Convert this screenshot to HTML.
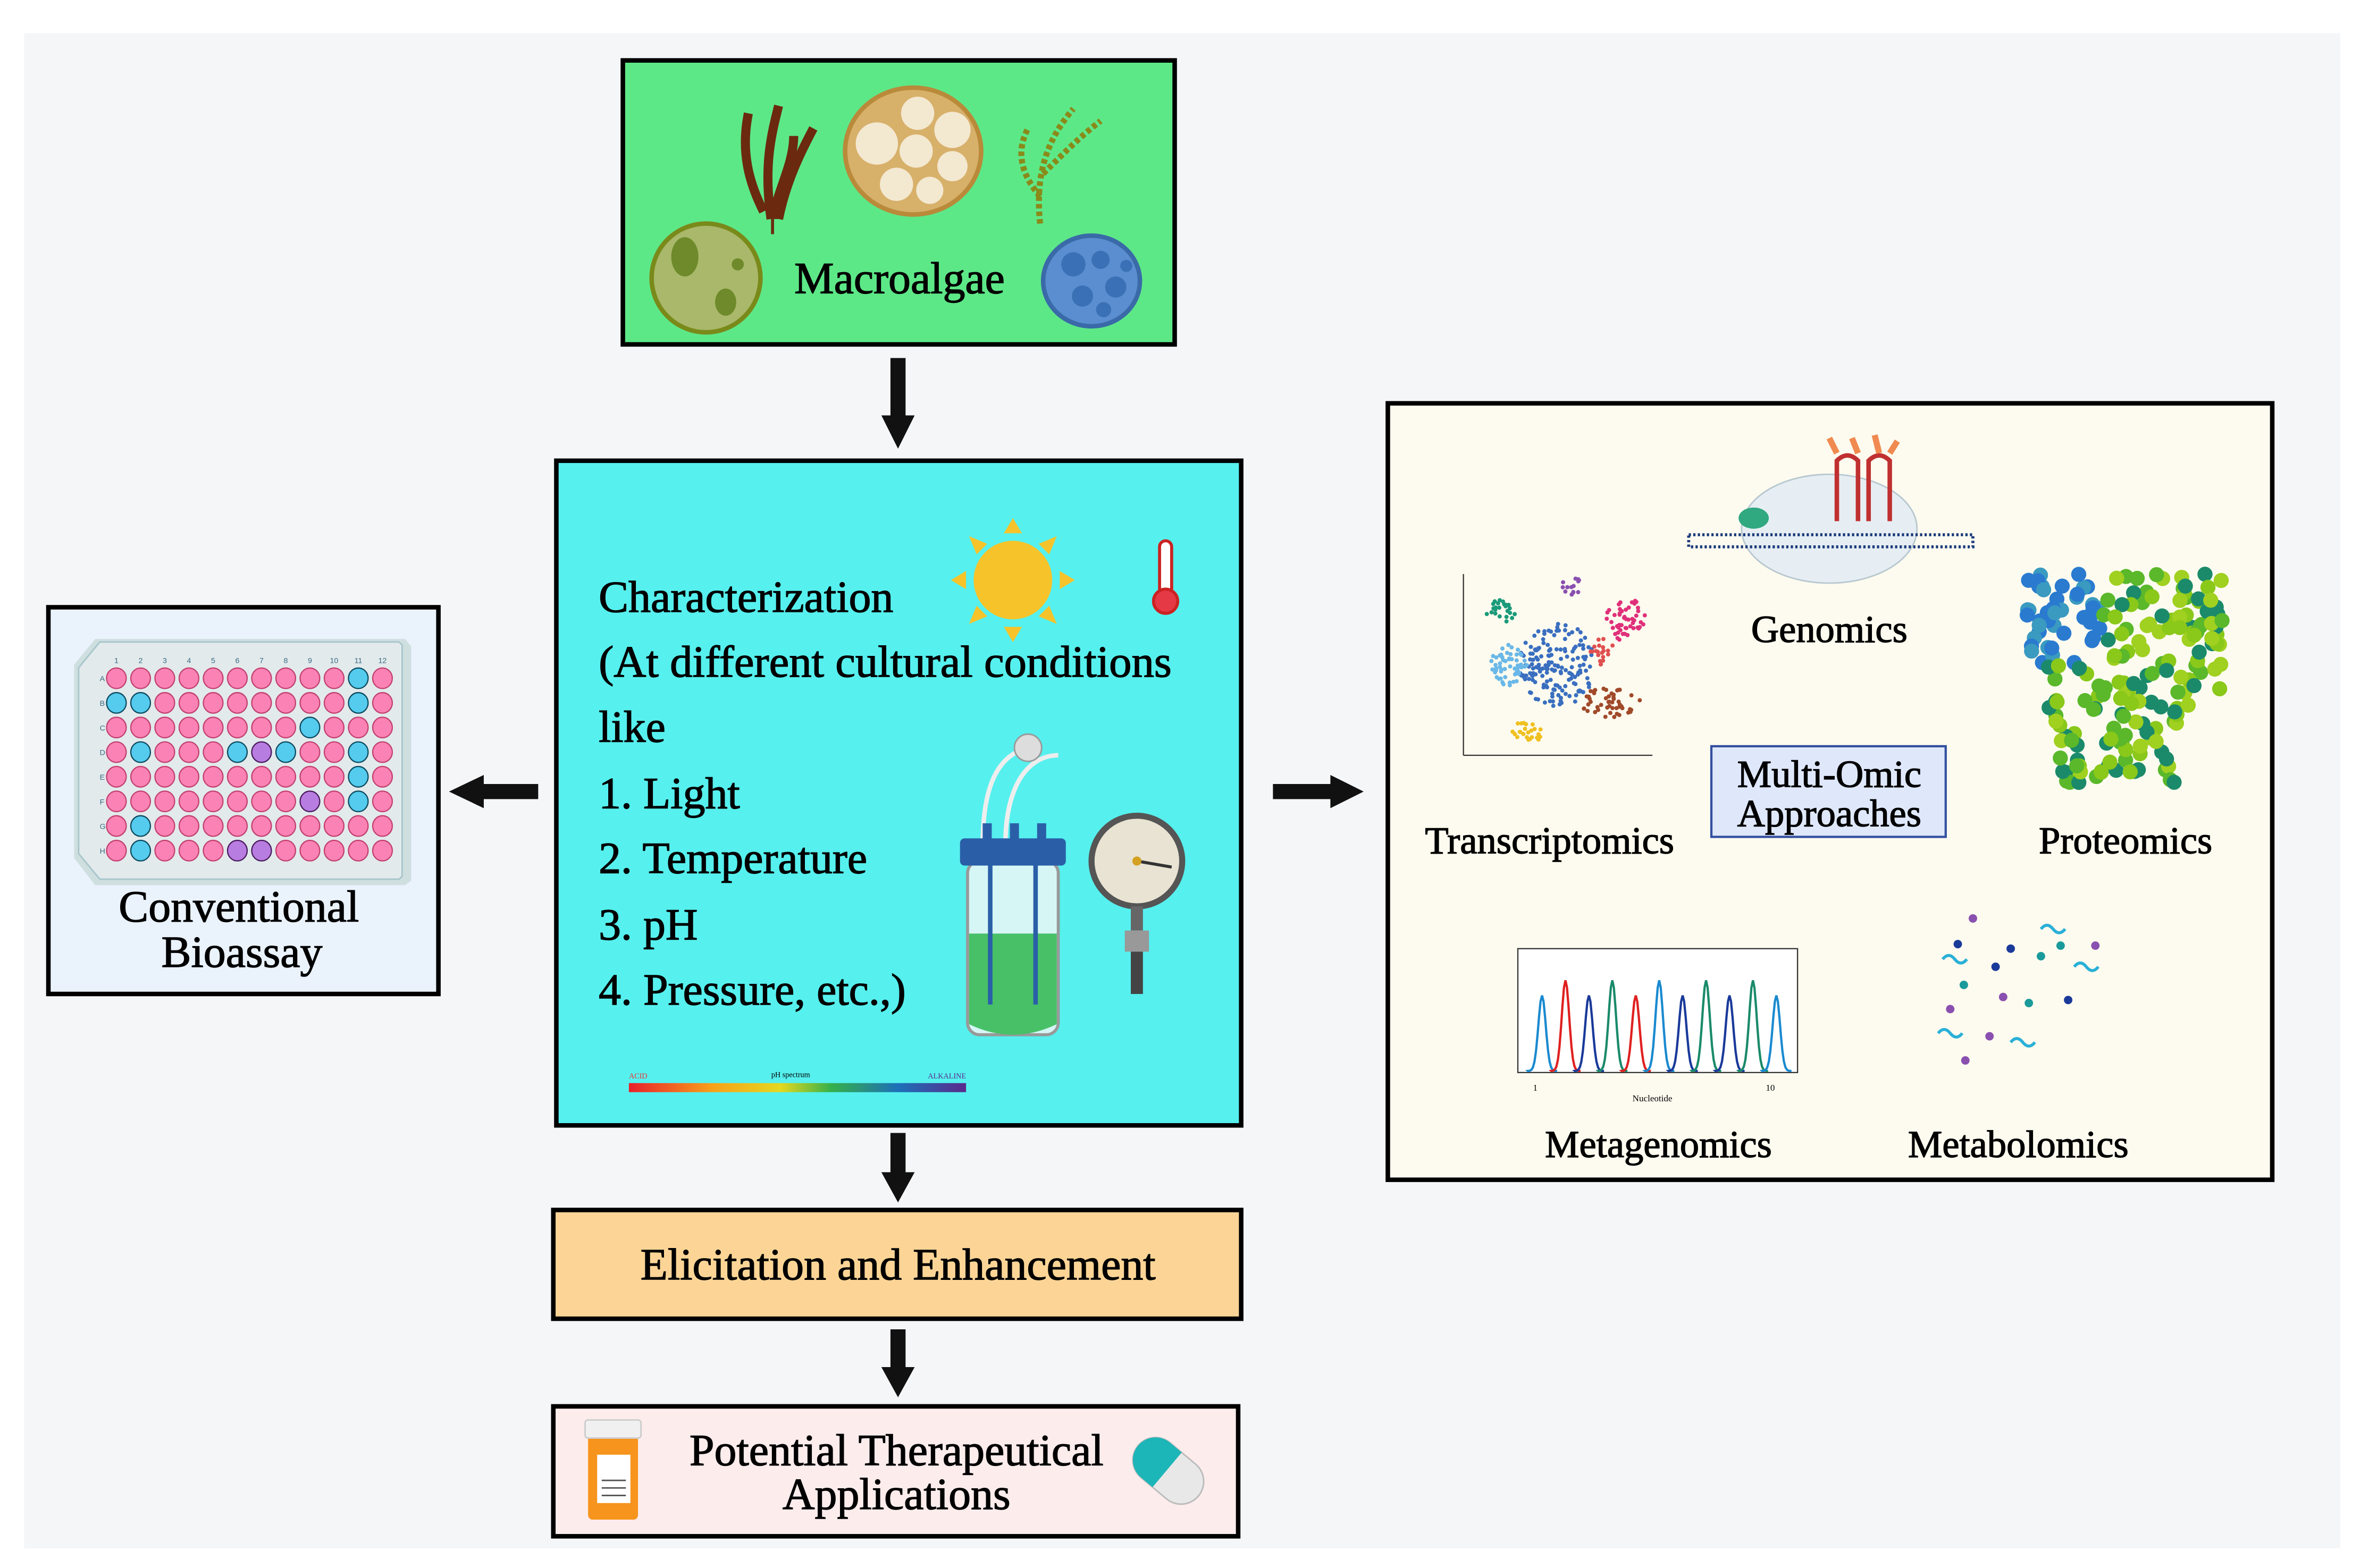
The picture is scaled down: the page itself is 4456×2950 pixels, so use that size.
<!DOCTYPE html>
<html><head><meta charset="utf-8">
<style>
html,body{margin:0;padding:0;background:#fff;}
svg{display:block;}
text{font-family:"Liberation Serif",serif;fill:#000;}
.b{stroke:#000;stroke-width:0.5;}
</style></head>
<body>
<svg id="s" width="4456" height="2950" viewBox="0 0 1567 1038" preserveAspectRatio="none" xmlns="http://www.w3.org/2000/svg">
<defs>
<linearGradient id="ph" x1="0" x2="1"><stop offset="0" stop-color="#e8202a"/><stop offset="0.25" stop-color="#f7a21b"/><stop offset="0.45" stop-color="#e4d820"/><stop offset="0.6" stop-color="#35b04a"/><stop offset="0.8" stop-color="#1d6fb8"/><stop offset="1" stop-color="#5a2a8c"/></linearGradient>
</defs>
<rect x="0" y="0" width="1567" height="1038" fill="#fff"/>
<rect x="16" y="22" width="1532" height="1003" fill="#f5f6f8"/>

<!-- Macroalgae box -->
<rect x="412" y="40" width="365" height="188" fill="#5de888" stroke="#000" stroke-width="3"/>
<path d="M505 140 C495 120 490 100 495 75 M510 145 C505 110 510 90 515 70 M515 145 C520 120 530 100 538 85 M512 145 C512 130 525 110 525 90" stroke="#6b2a10" stroke-width="6" fill="none"/>
<line x1="511" y1="145" x2="511" y2="155" stroke="#6b2a10" stroke-width="2"/>
<ellipse cx="604" cy="100" rx="45" ry="42" fill="#d7b06a" stroke="#b98a3a" stroke-width="3"/>
<circle cx="580" cy="95" r="14" fill="#f3e8d0"/><circle cx="607" cy="75" r="11" fill="#f3e8d0"/><circle cx="630" cy="86" r="12" fill="#f3e8d0"/><circle cx="606" cy="100" r="11" fill="#f3e8d0"/><circle cx="630" cy="110" r="10" fill="#f3e8d0"/><circle cx="593" cy="122" r="11" fill="#f3e8d0"/><circle cx="615" cy="126" r="9" fill="#f3e8d0"/>
<path d="M688 148 C685 120 690 95 710 72 M688 130 C675 115 672 100 680 85 M690 115 C705 100 715 90 728 80" stroke="#8a8a1a" stroke-width="4" fill="none" stroke-dasharray="3 2"/>
<ellipse cx="467" cy="184" rx="36" ry="36" fill="#a9b86a" stroke="#7a8a1a" stroke-width="3"/>
<ellipse cx="453" cy="170" rx="9" ry="13" fill="#6e8a2a"/><ellipse cx="480" cy="200" rx="7" ry="9" fill="#6e8a2a"/><circle cx="488" cy="175" r="4" fill="#6e8a2a"/>
<ellipse cx="722" cy="186" rx="32" ry="30" fill="#5a8ed0" stroke="#3a6aa8" stroke-width="3"/>
<circle cx="710" cy="175" r="8" fill="#3a70b5"/><circle cx="728" cy="172" r="6" fill="#3a70b5"/><circle cx="738" cy="190" r="7" fill="#3a70b5"/><circle cx="716" cy="196" r="7" fill="#3a70b5"/><circle cx="730" cy="205" r="5" fill="#3a70b5"/><circle cx="745" cy="176" r="4" fill="#3a70b5"/>
<text class="b" x="595" y="194" font-size="29.5" text-anchor="middle">Macroalgae</text>

<!-- arrows -->
<g fill="#111">
<rect x="589" y="237" width="10" height="40"/><polygon points="583,275 605,275 594,297"/>
<rect x="589" y="750" width="10" height="28"/><polygon points="583,776 605,776 594,796"/>
<rect x="589" y="880" width="10" height="27"/><polygon points="583,905 605,905 594,925"/>
<rect x="318" y="519" width="38" height="10"/><polygon points="320,513 320,535 297,524"/>
<rect x="842" y="519" width="40" height="10"/><polygon points="880,513 880,535 902,524"/>
</g>

<!-- Center box -->
<rect x="368" y="305" width="453" height="440" fill="#56f0ee" stroke="#000" stroke-width="3"/>
<g font-size="29.5" class="b">
<text x="396" y="405">Characterization</text>
<text x="396" y="448" textLength="379" lengthAdjust="spacingAndGlyphs">(At different cultural conditions</text>
<text x="396" y="491">like</text>
<text x="396" y="535">1. Light</text>
<text x="396" y="578">2. Temperature</text>
<text x="396" y="622">3. pH</text>
<text x="396" y="665">4. Pressure, etc.,)</text>
</g>
<!-- sun -->
<g fill="#f7c32a">
<circle cx="670" cy="384" r="26"/>
<polygon points="670,343 664,353 676,353"/><polygon points="670,425 664,415 676,415"/>
<polygon points="629,384 639,378 639,390"/><polygon points="711,384 701,378 701,390"/>
<polygon points="641,355 646,367 653,360"/><polygon points="699,355 694,367 687,360"/>
<polygon points="641,413 646,401 653,408"/><polygon points="699,413 694,401 687,408"/>
</g>
<rect x="767" y="358" width="8" height="36" rx="4" fill="#fff" stroke="#c22" stroke-width="2"/>
<circle cx="771" cy="398" r="8" fill="#e63946" stroke="#c22" stroke-width="2"/>
<!-- bioreactor -->
<path d="M650 560 C650 520 660 500 680 495 M665 560 C665 520 680 500 700 500" stroke="#eee" stroke-width="3" fill="none"/>
<circle cx="680" cy="495" r="9" fill="#ddd" stroke="#999"/>
<rect x="640" y="570" width="60" height="115" rx="8" fill="#d6f6f6" stroke="#999" stroke-width="2"/>
<path d="M641 618 L699 618 L699 678 Q670 692 641 678 Z" fill="#48c068"/>
<rect x="635" y="555" width="70" height="18" rx="3" fill="#2a5fa8"/>
<rect x="650" y="545" width="6" height="12" fill="#2a5fa8"/><rect x="668" y="545" width="6" height="12" fill="#2a5fa8"/><rect x="686" y="545" width="6" height="12" fill="#2a5fa8"/>
<line x1="655" y1="573" x2="655" y2="665" stroke="#2a5fa8" stroke-width="3"/><line x1="685" y1="573" x2="685" y2="665" stroke="#2a5fa8" stroke-width="3"/>
<!-- gauge -->
<circle cx="752" cy="570" r="30" fill="#e8e3d2" stroke="#555" stroke-width="4"/>
<line x1="752" y1="570" x2="775" y2="574" stroke="#333" stroke-width="2"/><circle cx="752" cy="570" r="3" fill="#d4a020"/>
<rect x="748" y="600" width="8" height="16" fill="#666"/><rect x="744" y="616" width="16" height="14" fill="#999"/><rect x="748" y="630" width="8" height="28" fill="#444"/>
<!-- pH bar -->
<rect x="416" y="717" width="223" height="6" fill="url(#ph)"/>
<text x="416" y="714" font-size="5" style="fill:#e33">ACID</text>
<text x="523" y="713" font-size="5" text-anchor="middle">pH spectrum</text>
<text x="639" y="714" font-size="5" text-anchor="end" style="fill:#5a2a8c">ALKALINE</text>

<!-- Left box -->
<rect x="32" y="402" width="258" height="256" fill="#eaf2fc" stroke="#000" stroke-width="3"/>
<path d="M63 423 L268 423 L272 428 L272 583 L268 586 L63 586 L49 568 L49 440 Z" fill="#cfdfe0"/>
<path d="M66 425 L264 425 L266 427 L266 580 L264 582 L66 582 L52 565 L52 442 Z" fill="#e2eaec" stroke="#a7c6cc" stroke-width="1"/>
<g id="plate"></g>
<text class="b" x="158" y="610" font-size="29.5" text-anchor="middle">Conventional</text>
<text class="b" x="160" y="640" font-size="29.5" text-anchor="middle">Bioassay</text>

<!-- Right box -->
<rect x="918" y="267" width="585" height="514" fill="#fdfbef" stroke="#000" stroke-width="3"/>
<!-- genomics -->
<ellipse cx="1210" cy="350" rx="58" ry="36" fill="#e6eef3" stroke="#b8c8d0"/>
<rect x="1117" y="354" width="188" height="8" fill="none" stroke="#1a3a7a" stroke-width="2" stroke-dasharray="1.5 1.5"/>
<path d="M1215 345 L1215 305 Q1222 298 1229 305 L1229 345 M1236 345 L1236 305 Q1243 298 1250 305 L1250 345" stroke="#c03030" stroke-width="3" fill="none"/>
<path d="M1215 300 L1210 290 M1229 300 L1225 290 M1243 300 L1240 288 M1250 300 L1255 292" stroke="#f08a50" stroke-width="4"/>
<ellipse cx="1160" cy="343" rx="10" ry="7" fill="#30a880"/>
<text class="b" x="1210" y="425" font-size="25.5" text-anchor="middle">Genomics</text>
<!-- tsne -->
<g id="tsne"></g>
<line x1="968" y1="500" x2="1093" y2="500" stroke="#333" stroke-width="0.8"/>
<line x1="968" y1="380" x2="968" y2="500" stroke="#333" stroke-width="0.8"/>
<text class="b" x="1025" y="565" font-size="25.5" text-anchor="middle">Transcriptomics</text>
<!-- proteomics -->
<g id="prot"></g>
<text class="b" x="1406" y="565" font-size="25.5" text-anchor="middle">Proteomics</text>
<!-- multi-omic -->
<rect x="1132" y="494" width="155" height="60" fill="#dfe8fb" stroke="#3350a0" stroke-width="1.5"/>
<text class="b" x="1210" y="521" font-size="25.5" text-anchor="middle">Multi-Omic</text>
<text class="b" x="1210" y="547" font-size="25.5" text-anchor="middle">Approaches</text>
<!-- metagenomics -->
<rect x="1004" y="628" width="185" height="82" fill="#fff" stroke="#333" stroke-width="0.8"/>
<g id="peaks" fill="none" stroke-width="1.5"></g>
<text x="1014" y="722" font-size="6">1</text><text x="1168" y="722" font-size="6">10</text><text x="1093" y="729" font-size="6" text-anchor="middle">Nucleotide</text>
<text class="b" x="1097" y="766" font-size="25.5" text-anchor="middle">Metagenomics</text>
<!-- metabolomics -->
<g id="met"></g>
<text class="b" x="1335" y="766" font-size="25.5" text-anchor="middle">Metabolomics</text>

<!-- Elicitation -->
<rect x="366" y="801" width="455" height="72" fill="#fcd596" stroke="#000" stroke-width="3"/>
<text class="b" x="594" y="847" font-size="29.5" text-anchor="middle">Elicitation and Enhancement</text>

<!-- Potential -->
<rect x="366" y="931" width="453" height="86" fill="#fcecec" stroke="#000" stroke-width="3"/>
<rect x="389" y="950" width="33" height="56" rx="3" fill="#f7941d"/>
<rect x="387" y="940" width="37" height="12" rx="2" fill="#f0f0f0" stroke="#ccc"/>
<rect x="395" y="963" width="22" height="32" fill="#fff"/>
<line x1="398" y1="980" x2="414" y2="980" stroke="#555"/><line x1="398" y1="985" x2="414" y2="985" stroke="#555"/><line x1="398" y1="990" x2="414" y2="990" stroke="#555"/>
<g transform="rotate(40 772 973)">
<rect x="747" y="958" width="52" height="30" rx="15" fill="#e8e8e8" stroke="#bbb"/>
<path d="M762 958 L772 958 L772 988 L762 988 A15 15 0 0 1 762 958 Z" fill="#1cb5b8"/>
</g>
<text class="b" x="593" y="970" font-size="29.5" text-anchor="middle">Potential Therapeutical</text>
<text class="b" x="593" y="999" font-size="29.5" text-anchor="middle">Applications</text>
</svg>
<script>
var NS="http://www.w3.org/2000/svg";
function el(p,t,a){var e=document.createElementNS(NS,t);for(var k in a)e.setAttribute(k,a[k]);p.appendChild(e);return e;}
var pl=document.getElementById('plate');
var blue={"A11":1,"B1":1,"B2":1,"B11":1,"C9":1,"D2":1,"D6":1,"D8":1,"D11":1,"E11":1,"F11":1,"G2":1,"H2":1};
var pur={"D7":1,"F9":1,"H6":1,"H7":1};
var R="ABCDEFGH";
for(var c=0;c<12;c++){var t=el(pl,'text',{x:77+c*16,y:439,'font-size':5,'text-anchor':'middle',style:'fill:#3a6a80;font-family:Liberation Sans,sans-serif'});t.textContent=c+1;}
for(var r=0;r<8;r++){var t=el(pl,'text',{x:66,y:451+r*16.3,'font-size':5,style:'fill:#3a6a80;font-family:Liberation Sans,sans-serif'});t.textContent=R[r];
for(var c=0;c<12;c++){var k=R[r]+(c+1);var f=blue[k]?"#55cbee":pur[k]?"#b87de0":"#fb82b5";var s=blue[k]?"#0c4a5e":pur[k]?"#4a1a5e":"#c2406e";
el(pl,'ellipse',{cx:77+c*16,cy:449+r*16.3,rx:6.5,ry:6.8,fill:f,stroke:s,'stroke-width':0.8});}}
var ts=document.getElementById('tsne');
function rnd(s){return function(){s=(s*9301+49297)%233280;return s/233280;}}
var rn=rnd(7);
var cl=[[1030,440,25,28,"#3a6fc0",170],[998,440,12,14,"#6ab8e8",60],[1075,410,14,14,"#e0307a",50],[1065,465,20,10,"#a04a2a",50],[993,405,10,8,"#1a9a7a",25],[1060,430,8,10,"#e05050",20],[1010,485,10,8,"#f0c020",25],[1040,388,7,6,"#8a50b0",14]];
cl.forEach(function(q){for(var i=0;i<q[5];i++){var a=rn()*6.283,d=Math.sqrt(rn());el(ts,'circle',{cx:q[0]+Math.cos(a)*d*q[2],cy:q[1]+Math.sin(a)*d*q[3],r:1.4,fill:q[4]});}});
var pr=document.getElementById('prot');var cols=["#2a7ad0","#3a9ac0","#8ac81a","#5ab82a","#1a8a6a","#a0d020"];
for(var i=0;i<260;i++){var x=1340+rn()*130,y=380+rn()*140;var inside=(y<440)||(x>1355&&x<1440&&y<520)||(x>1400&&y<470);if(!inside)continue;var c=(x<1390&&y<440)?cols[rn()<0.5?0:1]:cols[2+Math.floor(rn()*4)];el(pr,'circle',{cx:x,cy:y,r:5,fill:c});}
var pk=document.getElementById('peaks');var pc=["#1a8ad0","#e02020","#1a3a9a","#1a8a6a","#e02020","#1a8ad0","#1a3a9a","#1a8a6a","#1a3a9a","#1a8a6a","#1a8ad0"];
for(var i=0;i<11;i++){var cx=1020+i*15.5,h=i%2?60:50;var d="M"+(cx-10)+" 709";for(var x=-10;x<=10;x++){d+=" L"+(cx+x)+" "+(709-h*Math.exp(-x*x/12));}el(pk,'path',{d:d,stroke:pc[i]});}
var mt=document.getElementById('met');
[[1305,608,"#8a50b0"],[1295,625,"#1a3a9a"],[1330,628,"#1a3a9a"],[1363,626,"#1a9a9a"],[1386,626,"#8a50b0"],[1320,640,"#1a3a9a"],[1350,633,"#1a9a9a"],[1299,652,"#1a9a9a"],[1325,660,"#8a50b0"],[1342,664,"#1a9a9a"],[1368,662,"#1a3a9a"],[1290,668,"#8a50b0"],[1316,686,"#8a50b0"],[1300,702,"#8a50b0"]].forEach(function(p){el(mt,'circle',{cx:p[0],cy:p[1],r:2.8,fill:p[2]});});
[[1350,615],[1285,635],[1372,640],[1282,684],[1330,690]].forEach(function(p){el(mt,'path',{d:"M"+p[0]+" "+p[1]+" q4 -5 8 0 q4 5 8 0",stroke:"#2ab0d8","stroke-width":2,fill:"none"});});
</script>
</body></html>
